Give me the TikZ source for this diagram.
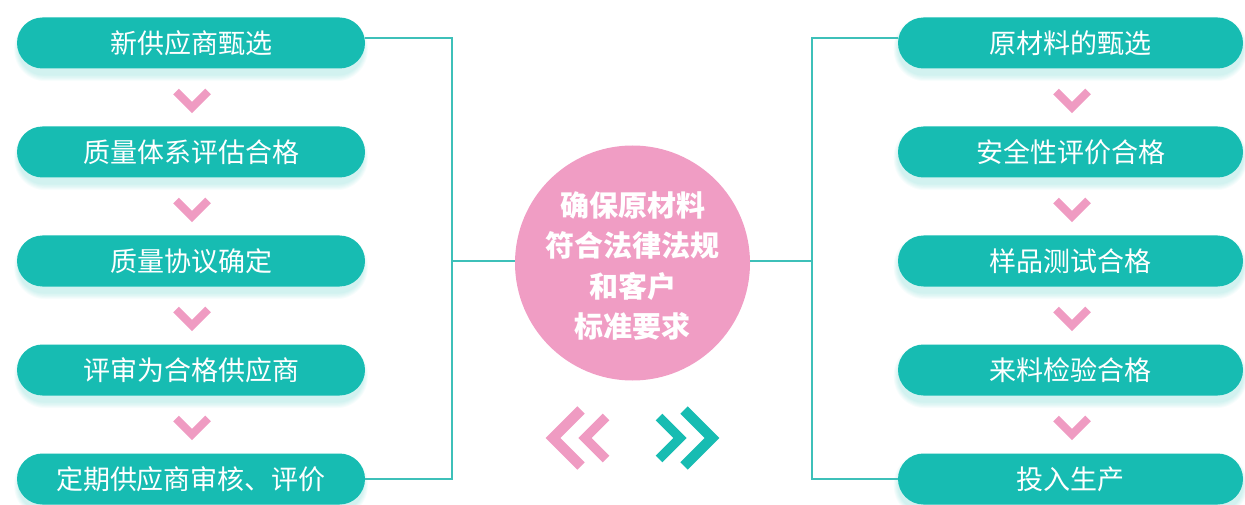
\documentclass[tikz,border=0pt]{standalone}
\usepackage{fontspec}
\newfontfamily\cjk{Noto Sans CJK SC}
\definecolor{tealc}{HTML}{17BCB2}
\definecolor{linec}{HTML}{3DC0B9}
\definecolor{pinkc}{HTML}{EF9BC2}
\definecolor{circc}{HTML}{F09DC4}
\tikzset{
  pill/.style={fill=tealc, rounded corners=25.5pt, minimum width=348pt, minimum height=51pt,
    inner sep=0pt, text=white, font=\cjk\fontsize{27}{30}\selectfont},
  conn/.style={draw=linec, line width=1.6pt},
  downchev/.style={draw=pinkc, line width=8pt, line cap=butt, line join=miter},
  sidechev/.style={line width=10.5pt, line cap=butt, line join=miter},
  centre/.style={circle, fill=circc, minimum size=235pt, inner sep=0pt},
  centretext/.style={text=white, align=center, inner sep=0pt,
    font=\cjk\bfseries\fontsize{29}{40.5}\selectfont}
}
\begin{document}
\begin{tikzpicture}[x=1pt,y=-1pt]
\useasboundingbox (0,0) rectangle (1245,505);
% shadows
\foreach \cx in {191,1070.5}{
  \foreach \cy in {43,152,261,370,479}{
    \foreach \k in {1,...,6}{
      \fill[tealc, opacity=0.035, rounded corners={25pt+\k*1pt}]
        ({\cx-172-\k*0.8},{\cy+6-25.5-\k*1.1}) rectangle ({\cx+172+\k*0.8},{\cy+6+25.5+\k*1.1});
    }
  }
}
% left column
\foreach \cy/\t [count=\i] in {43/新供应商甄选,152/质量体系评估合格,261/质量协议确定,370/评审为合格供应商,479/定期供应商审核、评价}{
  \node[pill] (L\i) at (191,\cy) {\t};
}
% right column
\foreach \cy/\t [count=\i] in {43/原材料的甄选,152/安全性评价合格,261/样品测试合格,370/来料检验合格,479/投入生产}{
  \node[pill, minimum width=345pt] (R\i) at (1070.5,\cy) {\t};
}
% down chevrons
\foreach \m in {97.5,206.5,315.5,424.5}{
  \draw[downchev] (176,{\m-6}) -- (192,{\m+10}) -- (208,{\m-6});
  \draw[downchev] (1056,{\m-6}) -- (1072,{\m+10}) -- (1088,{\m-6});
}
% connectors
\coordinate (JL) at (452,261);
\coordinate (JR) at (812,261);
\node[centre] (C) at (632.5,263) {};
\draw[conn] ([yshift=5pt]L1.east) -| (JL) |- (L5.east);
\draw[conn] (JL) -- (JL -| C.west);
\draw[conn] ([yshift=5pt]R1.west) -| (JR) |- (R5.west);
\draw[conn] (JR) -- (JR -| C.east);
% centre text
\node[centretext] (T) at (632.5,266) {确保原材料\\符合法律法规\\和客户\\标准要求};
% side chevrons
\draw[sidechev, draw=pinkc] (581,410) -- (553,438) -- (581,466);
\draw[sidechev, draw=pinkc, line width=9.5pt] (606,417) -- (585,438) -- (606,459);
\draw[sidechev, draw=tealc, line width=9.5pt] (659,417) -- (680,438) -- (659,459);
\draw[sidechev, draw=tealc] (684,410) -- (712,438) -- (684,466);
\end{tikzpicture}
\end{document}
